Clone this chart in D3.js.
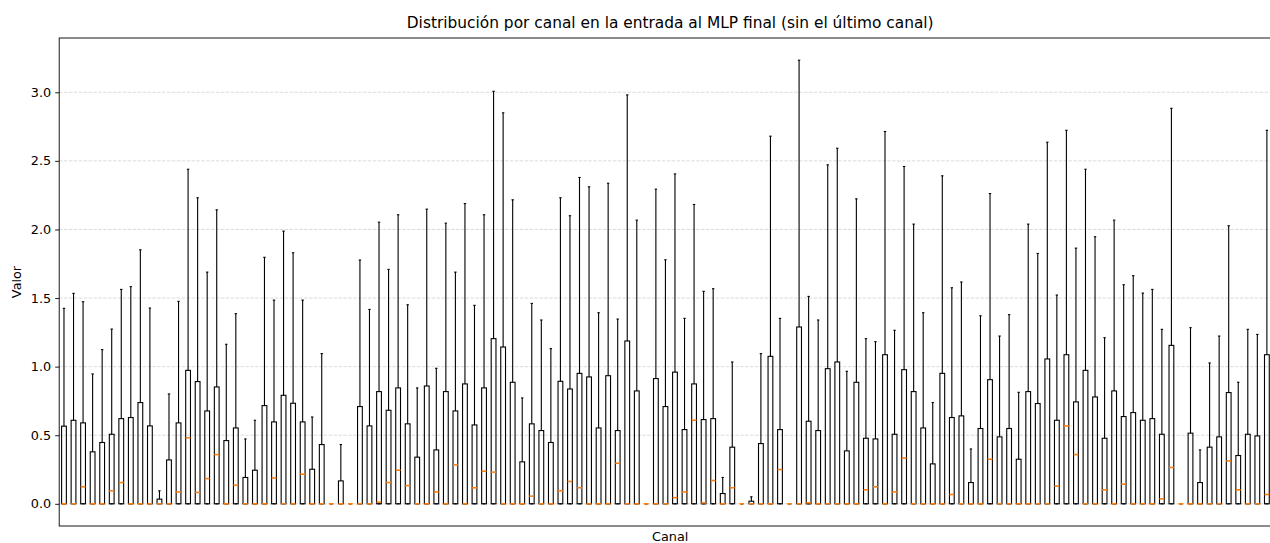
<!DOCTYPE html>
<html>
<head>
<meta charset="utf-8">
<script src="https://cdn.jsdelivr.net/npm/d3@7"></script>
<style>
  html, body { margin: 0; padding: 0; background: #fff; overflow: hidden; }
  svg { display: block; font-family: "DejaVu Sans", sans-serif; }
</style>
</head>
<body>
<svg id="chart"></svg>
<script>
// Per-channel box statistics (lower quartile and lower whisker sit at 0 for every channel)
const channelCount = 128;
const channels = d3.range(1, 128);

const upperQuartile = [
  0.566, 0.609, 0.590, 0.379, 0.447, 0.507, 0.621, 0.629, 0.738, 0.568,
  0.034, 0.320, 0.590, 0.973, 0.891, 0.677, 0.852, 0.461, 0.553, 0.192,
  0.245, 0.716, 0.597, 0.791, 0.733, 0.597, 0.252, 0.432, 0.000, 0.167,
  0.000, 0.709, 0.568, 0.818, 0.682, 0.845, 0.583, 0.340, 0.859, 0.393,
  0.818, 0.677, 0.874, 0.575, 0.845, 1.204, 1.143, 0.886, 0.306, 0.583,
  0.534, 0.447, 0.893, 0.837, 0.951, 0.925, 0.553, 0.934, 0.534, 1.187,
  0.823, 0.000, 0.913, 0.709, 0.960, 0.541, 0.874, 0.614, 0.621, 0.075,
  0.413, 0.000, 0.019, 0.439, 1.075, 0.541, 0.000, 1.289, 0.602, 0.534,
  0.985, 1.034, 0.386, 0.886, 0.478, 0.473, 1.087, 0.507, 0.978, 0.818,
  0.553, 0.291, 0.951, 0.629, 0.641, 0.155, 0.549, 0.905, 0.488, 0.549,
  0.325, 0.818, 0.731, 1.056, 0.609, 1.087, 0.743, 0.973, 0.779, 0.478,
  0.823, 0.636, 0.665, 0.609, 0.621, 0.507, 1.155, 0.000, 0.515, 0.155,
  0.413, 0.488, 0.811, 0.352, 0.507, 0.495, 1.087
];

const upperWhisker = [
  1.425, 1.534, 1.473, 0.947, 1.124, 1.274, 1.563, 1.583, 1.852, 1.427,
  0.095, 0.801, 1.476, 2.439, 2.231, 1.689, 2.143, 1.163, 1.386, 0.473,
  0.609, 1.797, 1.485, 1.988, 1.830, 1.485, 0.633, 1.095, 0.000, 0.432,
  0.000, 1.777, 1.417, 2.053, 1.709, 2.107, 1.451, 0.845, 2.148, 0.988,
  2.046, 1.689, 2.189, 1.447, 2.107, 3.007, 2.850, 2.216, 0.772, 1.461,
  1.340, 1.131, 2.231, 2.100, 2.379, 2.311, 1.393, 2.337, 1.347, 2.981,
  2.068, 0.000, 2.294, 1.779, 2.405, 1.352, 2.182, 1.549, 1.568, 0.192,
  1.034, 0.000, 0.051, 1.095, 2.680, 1.352, 0.000, 3.234, 1.512, 1.340,
  2.471, 2.592, 0.966, 2.223, 1.204, 1.182, 2.714, 1.265, 2.459, 2.039,
  1.393, 0.738, 2.391, 1.575, 1.617, 0.400, 1.371, 2.262, 1.223, 1.379,
  0.813, 2.039, 1.825, 2.636, 1.522, 2.723, 1.864, 2.439, 1.947, 1.211,
  2.068, 1.597, 1.663, 1.536, 1.563, 1.272, 2.883, 0.000, 1.284, 0.393,
  1.027, 1.223, 2.027, 0.886, 1.272, 1.235, 2.723
];

const medians = [
  0.000, 0.000, 0.124, 0.000, 0.000, 0.095, 0.155, 0.000, 0.000, 0.000,
  0.000, 0.000, 0.087, 0.481, 0.083, 0.184, 0.359, 0.000, 0.136, 0.000,
  0.000, 0.000, 0.189, 0.000, 0.000, 0.216, 0.000, 0.000, 0.000, 0.000,
  0.000, 0.000, 0.000, 0.012, 0.155, 0.245, 0.133, 0.000, 0.000, 0.087,
  0.000, 0.284, 0.000, 0.117, 0.238, 0.231, 0.000, 0.000, 0.000, 0.056,
  0.000, 0.000, 0.095, 0.163, 0.117, 0.000, 0.000, 0.000, 0.296, 0.000,
  0.000, 0.000, 0.000, 0.000, 0.045, 0.087, 0.609, 0.007, 0.170, 0.000,
  0.117, 0.000, 0.000, 0.000, 0.000, 0.250, 0.000, 0.000, 0.007, 0.000,
  0.000, 0.000, 0.000, 0.000, 0.102, 0.124, 0.000, 0.087, 0.333, 0.000,
  0.000, 0.000, 0.000, 0.068, 0.000, 0.000, 0.000, 0.325, 0.000, 0.000,
  0.000, 0.000, 0.000, 0.000, 0.129, 0.568, 0.359, 0.000, 0.000, 0.102,
  0.000, 0.143, 0.000, 0.000, 0.000, 0.036, 0.265, 0.000, 0.000, 0.000,
  0.000, 0.000, 0.313, 0.102, 0.000, 0.000, 0.068
];

const lowerQuartile = 0;
const yTicks = [0.0, 0.5, 1.0, 1.5, 2.0, 2.5, 3.0];

const titleText = "Distribución por canal en la entrada al MLP final (sin el último canal)";
const xLabel = "Canal";
const yLabel = "Valor";

const rows = channels.map((c, i) => ({
  channel: c,
  q1: lowerQuartile,
  q3: upperQuartile[i],
  hi: upperWhisker[i],
  med: medians[i]
}));

// Layout
const width = 1282, height = 543;
const m = { left: 59.2, top: 38, right: 0.8, bottom: 17 };
const pw = width - m.left - m.right;
const ph = height - m.top - m.bottom;

const svg = d3.select("#chart").attr("width", width).attr("height", height);

const x = d3.scaleLinear().domain([0.5, channelCount + 0.5]).range([m.left, m.left + pw]);
const yMax = d3.max(rows, d => d.hi), yMin = 0;
const pad = (yMax - yMin) * 0.05;
const y = d3.scaleLinear().domain([yMin - pad, yMax + pad]).range([m.top + ph, m.top]);

const unit = x(2) - x(1);
const boxW = 0.5 * unit;
const capW = 0.25 * unit;

// Horizontal grid
svg.append("g")
  .selectAll("line")
  .data(yTicks)
  .join("line")
  .attr("x1", m.left).attr("x2", m.left + pw)
  .attr("y1", d => y(d)).attr("y2", d => y(d))
  .attr("stroke", "#b0b0b0").attr("stroke-opacity", 0.5)
  .attr("stroke-width", 0.9).attr("stroke-dasharray", "3.4,1.5");

// Boxes
const g = svg.append("g");
const box = g.selectAll("g.box").data(rows).join("g").attr("class", "box");

// whiskers
box.append("line")
  .attr("x1", d => x(d.channel)).attr("x2", d => x(d.channel))
  .attr("y1", d => y(d.q3)).attr("y2", d => y(d.hi))
  .attr("stroke", "#000").attr("stroke-width", 1.1);
// caps
box.append("line")
  .attr("x1", d => x(d.channel) - capW / 2).attr("x2", d => x(d.channel) + capW / 2)
  .attr("y1", d => y(d.hi)).attr("y2", d => y(d.hi))
  .attr("stroke", "#000").attr("stroke-width", 1.1);
box.append("line")
  .attr("x1", d => x(d.channel) - capW / 2).attr("x2", d => x(d.channel) + capW / 2)
  .attr("y1", d => y(d.q1)).attr("y2", d => y(d.q1))
  .attr("stroke", "#000").attr("stroke-width", 1.1);
// box outline
box.append("rect")
  .attr("x", d => x(d.channel) - boxW / 2)
  .attr("width", boxW)
  .attr("y", d => y(d.q3))
  .attr("height", d => y(d.q1) - y(d.q3))
  .attr("fill", "none").attr("stroke", "#000").attr("stroke-width", 1.1);
// medians
box.append("line")
  .attr("x1", d => x(d.channel) - boxW / 2).attr("x2", d => x(d.channel) + boxW / 2)
  .attr("y1", d => y(d.med)).attr("y2", d => y(d.med))
  .attr("stroke", "#ff7f0e").attr("stroke-width", 1.6);

// Y axis
const yAxis = d3.axisLeft(y).tickValues(yTicks).tickFormat(d3.format(".1f")).tickSize(4).tickPadding(4);
const ya = svg.append("g").attr("transform", `translate(${m.left},0)`).call(yAxis);
ya.select(".domain").remove();
ya.selectAll("line").attr("stroke", "#000").attr("stroke-width", 0.9);
ya.selectAll("text").attr("font-size", "12.8px").attr("fill", "#000")
  .attr("font-family", "DejaVu Sans, sans-serif");

// Frame
svg.append("rect")
  .attr("x", m.left).attr("y", m.top).attr("width", pw).attr("height", ph)
  .attr("fill", "none").attr("stroke", "#000").attr("stroke-width", 0.9);

// Title and labels
svg.append("text")
  .attr("x", m.left + pw / 2).attr("y", 28)
  .attr("text-anchor", "middle").attr("font-size", "15.4px").attr("fill", "#000")
  .text(titleText);
svg.append("text")
  .attr("x", m.left + pw / 2).attr("y", 540.5)
  .attr("text-anchor", "middle").attr("font-size", "12.8px").attr("fill", "#000")
  .text(xLabel);
svg.append("text")
  .attr("transform", `translate(21,${m.top + ph / 2}) rotate(-90)`)
  .attr("text-anchor", "middle").attr("font-size", "12.8px").attr("fill", "#000")
  .text(yLabel);
</script>
</body>
</html>
